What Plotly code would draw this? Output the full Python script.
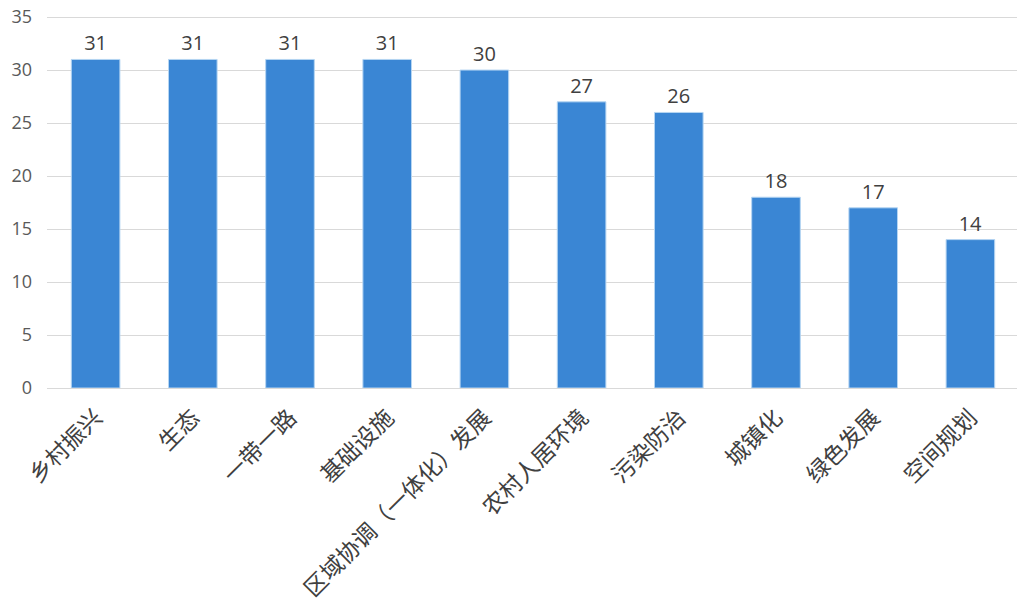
import plotly.graph_objects as go

# Topic counts
topics = ["乡村振兴", "生态", "一带一路", "基础设施", "区域协调（一体化）发展",
          "农村人居环境", "污染防治", "城镇化", "绿色发展", "空间规划"]
counts = [31, 31, 31, 31, 30, 27, 26, 18, 17, 14]
y_ticks = [0, 5, 10, 15, 20, 25, 30, 35]

fig = go.Figure()
fig.add_trace(go.Bar(
    x=topics, y=counts,
    marker=dict(color="#3a86d4", line=dict(color="#b5d5f2", width=1)),
    text=counts, textposition="outside", cliponaxis=False,
    textfont=dict(family="Open Sans", size=20, color="#404040"),
))

# page body adds an 8px offset, so margins are trimmed to compensate
fig.update_layout(
    width=1025, height=615,
    margin=dict(l=39, r=14, t=8, b=235),
    plot_bgcolor="white", paper_bgcolor="white",
    bargap=0.5, showlegend=False,
    font=dict(family="Noto Sans CJK SC"),
)
fig.update_xaxes(
    tickangle=-45, showline=True, linecolor="#d9d9d9", linewidth=1,
    ticks="", automargin=False, ticklabelstandoff=6,
    tickfont=dict(family="Noto Sans CJK SC", size=23, color="#404040"),
)
fig.update_yaxes(
    range=[0, 35.1], tickvals=y_ticks, showgrid=True, gridcolor="#d9d9d9",
    zeroline=False, ticks="", ticklabelstandoff=14, automargin=False,
    ticklabeloverflow="allow",
    tickfont=dict(family="Open Sans", size=18, color="#595959"),
)

fig.write_html("out.html")
